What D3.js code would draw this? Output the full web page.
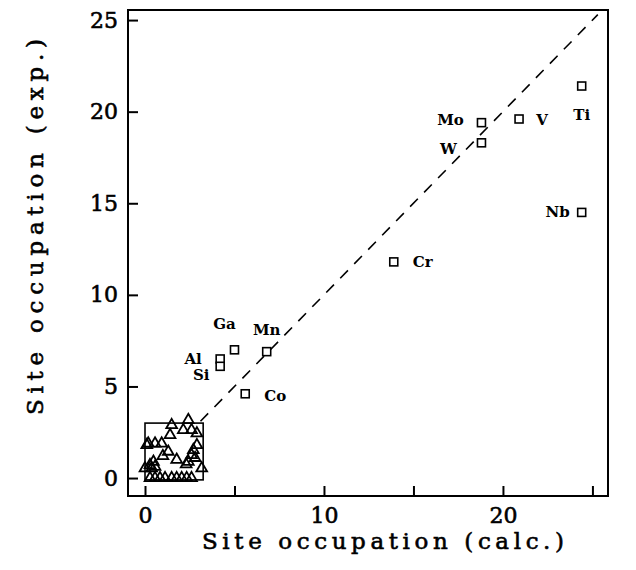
<!DOCTYPE html>
<html>
<head>
<meta charset="utf-8">
<script src="https://cdn.jsdelivr.net/npm/d3@7"></script>
<style>
  body { margin: 0; background: #fff; }
  text { font-family: "DejaVu Serif", serif; fill: #000; }
  .heavy { stroke: #000; stroke-width: 0.6px; }
</style>
</head>
<body>
<div id="chart"></div>
<script>
// elements with labels (squares): calc vs exp site occupation
var elements = ["Ti", "Nb", "V", "Mo", "W", "Cr", "Mn", "Ga", "Al", "Si", "Co"];
var elemCalc = [24.4, 24.4, 20.9, 18.8, 18.8, 13.9, 6.8, 5.0, 4.2, 4.2, 5.6];
var elemExp  = [21.4, 14.5, 19.6, 19.4, 18.3, 11.8, 6.9, 7.0, 6.5, 6.1, 4.6];

// small values (triangles) in the box at the lower left
var triCalc = [2.42, 1.49, 2.14, 2.6, 1.4, 2.9, 0.18, 0.56, 0.93, 1.3, 2.7, 2.6, 2.9, 2.42, 3.17,
               0.28, 0.47, 0.37, 0.0, 0.56, 1.77, 2.3, 1.0,
               0.28, 0.56, 0.84, 1.12, 1.49, 1.77, 2.05, 2.33, 2.6, 0.1, 2.8];
var triExp  = [3.17, 2.89, 2.62, 2.62, 2.35, 2.44, 1.89, 1.89, 1.89, 1.44, 1.53, 1.26, 1.8, 0.89, 0.53,
               0.71, 0.89, 0.53, 0.53, 0.62, 1.0, 0.75, 1.2,
               0.0, 0.0, 0.0, 0.0, 0.0, 0.0, 0.0, 0.0, 0.0, 1.8, 1.1];

var xTicks = [0, 5, 10, 15, 20, 25];
var xTickLabels = ["0", "", "10", "", "20", ""];
var yTicks = [0, 5, 10, 15, 20, 25];

// the box round the small values and the y = x guide
var boxCorners = [[0, -0.1], [3.25, 3.0]];
var diagonal = [3.1, 25.3];

var svgWidth = 636, svgHeight = 570;
var margin = {top: 10, right: 28, bottom: 74, left: 128};
var width = svgWidth - margin.left - margin.right;
var height = svgHeight - margin.top - margin.bottom;

var svg = d3.select("#chart").append("svg")
    .attr("width", svgWidth)
    .attr("height", svgHeight);

var g = svg.append("g")
    .attr("transform", `translate(${margin.left}, ${margin.top})`);

var x = d3.scaleLinear().domain([-0.95, 25.87]).range([0, width]);
var y = d3.scaleLinear().domain([-0.98, 25.55]).range([height, 0]);

// axes, ticks inward
var xAxis = g.append("g")
    .attr("transform", `translate(0, ${height})`)
    .call(d3.axisBottom(x).tickValues(xTicks)
        .tickFormat((d, i) => xTickLabels[i])
        .tickSizeInner(-10).tickSizeOuter(0).tickPadding(11));
var yAxis = g.append("g")
    .call(d3.axisLeft(y).tickValues(yTicks)
        .tickSizeInner(-10).tickSizeOuter(0).tickPadding(10));

[xAxis, yAxis].forEach(function(a) {
    a.select(".domain").remove();
    a.selectAll(".tick line").attr("stroke", "#000").attr("stroke-width", 2);
    a.selectAll(".tick text")
        .attr("font-size", 22)
        .attr("class", "heavy")
        .style("font-family", "DejaVu Serif");
});

// frame
g.append("rect")
    .attr("x", 0).attr("y", 0)
    .attr("width", width).attr("height", height)
    .attr("fill", "none").attr("stroke", "#000").attr("stroke-width", 2);

// dashed y = x
g.append("line")
    .attr("x1", x(diagonal[0])).attr("y1", y(diagonal[0]))
    .attr("x2", x(diagonal[1])).attr("y2", y(diagonal[1]))
    .attr("stroke", "#000").attr("stroke-width", 1.6)
    .attr("stroke-dasharray", "11,9");

// box round the small ones
g.append("rect")
    .attr("x", x(boxCorners[0][0]))
    .attr("y", y(boxCorners[1][1]))
    .attr("width", x(boxCorners[1][0]) - x(boxCorners[0][0]))
    .attr("height", y(boxCorners[0][1]) - y(boxCorners[1][1]))
    .attr("fill", "none").attr("stroke", "#000").attr("stroke-width", 1.6);

// triangles
var tri = d3.symbol().type(d3.symbolTriangle).size(50);
g.selectAll(".tri")
    .data(triCalc.map((c, i) => ({c: c, e: triExp[i]})))
    .enter().append("path")
    .attr("class", "tri")
    .attr("d", tri)
    .attr("transform", d => `translate(${x(d.c)}, ${y(d.e)})`)
    .attr("fill", "none")
    .attr("stroke", "#000")
    .attr("stroke-width", 1.8);

// squares
var elemData = elements.map((n, i) => ({name: n, c: elemCalc[i], e: elemExp[i]}));
g.selectAll(".sq")
    .data(elemData)
    .enter().append("rect")
    .attr("class", "sq")
    .attr("x", d => x(d.c) - 4)
    .attr("y", d => y(d.e) - 4)
    .attr("width", 8).attr("height", 8)
    .attr("fill", "#fff")
    .attr("stroke", "#000")
    .attr("stroke-width", 1.6);

// label placement next to each square (pixels)
var labelOffset = {
    Ti: [0, 34], Nb: [-24, 5], V: [23, 6], Mo: [-31, 2], W: [-33, 11],
    Cr: [29, 5], Mn: [0, -17], Ga: [-10, -21], Al: [-27, 5], Si: [-19, 14], Co: [30, 7]
};
g.selectAll(".lbl")
    .data(elemData)
    .enter().append("text")
    .attr("class", "lbl")
    .attr("x", d => x(d.c) + labelOffset[d.name][0])
    .attr("y", d => y(d.e) + labelOffset[d.name][1])
    .attr("text-anchor", "middle")
    .attr("font-size", 15)
    .attr("font-weight", "bold")
    .text(d => d.name);

// axis titles
svg.append("text")
    .attr("class", "heavy")
    .attr("x", 383).attr("y", 549)
    .attr("text-anchor", "middle")
    .attr("font-size", 23)
    .attr("textLength", 362)
    .attr("lengthAdjust", "spacing")
    .text("Site occupation (calc.)");

svg.append("text")
    .attr("class", "heavy")
    .attr("transform", "translate(43, 227) rotate(-90)")
    .attr("text-anchor", "middle")
    .attr("font-size", 23)
    .attr("textLength", 376)
    .attr("lengthAdjust", "spacing")
    .text("Site occupation (exp.)");
</script>
</body>
</html>
